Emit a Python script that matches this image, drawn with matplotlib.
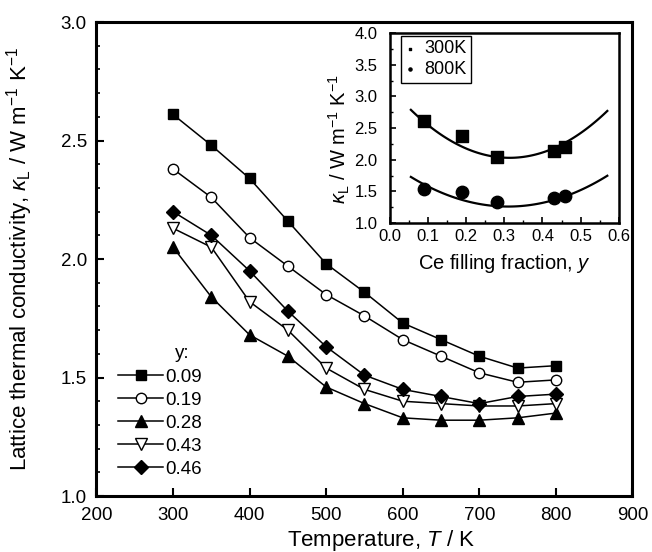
import numpy as np
import matplotlib
matplotlib.use("Agg")
import matplotlib.pyplot as plt
from matplotlib.ticker import MultipleLocator, FormatStrFormatter

plt.rcParams['font.family'] = ['Liberation Sans', 'DejaVu Sans']
plt.rcParams['mathtext.fontset'] = 'custom'
plt.rcParams['mathtext.it'] = 'Liberation Sans:italic'
plt.rcParams['mathtext.rm'] = 'Liberation Sans'

# data
temps = [300, 350, 400, 450, 500, 550, 600, 650, 700, 750, 800]
fill = [0.09, 0.19, 0.28, 0.43, 0.46]
k_009 = [2.61, 2.48, 2.34, 2.16, 1.98, 1.86, 1.73, 1.66, 1.59, 1.54, 1.55]
k_019 = [2.38, 2.26, 2.09, 1.97, 1.85, 1.76, 1.66, 1.59, 1.52, 1.48, 1.49]
k_028 = [2.05, 1.84, 1.68, 1.59, 1.46, 1.39, 1.33, 1.32, 1.32, 1.33, 1.35]
k_043 = [2.13, 2.05, 1.82, 1.70, 1.54, 1.45, 1.40, 1.39, 1.38, 1.38, 1.39]
k_046 = [2.20, 2.10, 1.95, 1.78, 1.63, 1.51, 1.45, 1.42, 1.39, 1.42, 1.43]
labels = ['0.09', '0.19', '0.28', '0.43', '0.46']

k300 = [2.61, 2.38, 2.05, 2.13, 2.20]
k800 = [1.54, 1.49, 1.33, 1.39, 1.43]
# parabola drawn in the inset: curvature, vertex y-fraction, vertex kappa
fit300 = [11.3, 0.314, 2.03]
fit800 = [7.2, 0.31, 1.26]
fit_range = [0.055, 0.57]

fig = plt.figure(figsize=(6.52, 5.52), dpi=100)
ax = fig.add_axes([0.148, 0.1014, 0.822, 0.8586])

series = [k_009, k_019, k_028, k_043, k_046]
markers = ['s', 'o', '^', 'v', 'D']
faces = ['k', 'w', 'k', 'w', 'k']
sizes = [7, 7.5, 8, 8.5, 7]
for ks, m, fc, ms, lab in zip(series, markers, faces, sizes, labels):
    ax.plot(temps, ks, color='k', lw=1.1, marker=m, mfc=fc, mec='k', mew=1.0,
            ms=ms, label=lab)

ax.set_xlim(200, 900)
ax.set_ylim(1.0, 3.0)
ax.xaxis.set_major_locator(MultipleLocator(100))
ax.yaxis.set_major_locator(MultipleLocator(0.5))
ax.yaxis.set_minor_locator(MultipleLocator(0.1))
ax.yaxis.set_major_formatter(FormatStrFormatter('%.1f'))
ax.tick_params(direction='in', length=6, width=1.5, labelsize=13.5)
ax.tick_params(axis='x', pad=8)
ax.tick_params(axis='y', pad=7)
ax.tick_params(which='minor', direction='in', length=3, width=1.2)
for s in ax.spines.values():
    s.set_linewidth(2.2)
ax.set_xlabel('Temperature, $\\it{T}$ / K', fontsize=16)
ax.xaxis.set_label_coords(0.532, -0.068)
ax.set_ylabel('Lattice thermal conductivity, $\\kappa_\\mathrm{L}$ / W m$^{-1}$ K$^{-1}$',
              fontsize=16)
ax.yaxis.set_label_coords(-0.115, 0.5)

ax.legend(loc='lower left', bbox_to_anchor=(0.041, 0.038), frameon=False,
          fontsize=13.5, handlelength=2.4, handletextpad=0.1,
          labelspacing=0.32, borderaxespad=0, borderpad=0)
ax.text(0.16, 0.300, 'y:', transform=ax.transAxes, fontsize=13.5,
        ha='center', va='center')

# inset
ins = fig.add_axes([0.598, 0.596, 0.351, 0.344])
ins.scatter(fill, k300, marker='s', s=70, color='k', label='300K', zorder=3)
ins.scatter(fill, k800, marker='o', s=80, color='k', label='800K', zorder=3)
xf = np.linspace(fit_range[0], fit_range[1], 100)
for a, x0, y0 in [fit300, fit800]:
    ins.plot(xf, y0 + a * (xf - x0) ** 2, color='k', lw=1.6)
ins.set_xlim(0.0, 0.6)
ins.set_ylim(1.0, 4.0)
ins.xaxis.set_major_locator(MultipleLocator(0.1))
ins.xaxis.set_minor_locator(MultipleLocator(0.05))
ins.yaxis.set_major_locator(MultipleLocator(0.5))
ins.yaxis.set_minor_locator(MultipleLocator(0.25))
ins.tick_params(direction='in', length=4.5, width=1.2, labelsize=12)
ins.tick_params(axis='x', pad=4)
ins.tick_params(axis='y', pad=9)
ins.tick_params(which='minor', direction='in', length=2.5, width=1)
for s in ins.spines.values():
    s.set_linewidth(1.8)
ins.set_xlabel('Ce filling fraction, $\\it{y}$', fontsize=14.5)
ins.xaxis.set_label_coords(0.5, -0.155)
ins.set_ylabel('$\\kappa_\\mathrm{L}$ / W m$^{-1}$ K$^{-1}$', fontsize=14.5)
ins.yaxis.set_label_coords(-0.165, 0.44)
il = ins.legend(loc='upper left', bbox_to_anchor=(0.05, 0.985), fontsize=13,
                markerscale=0.25, handlelength=0.5, handletextpad=0.5,
                labelspacing=0.2, borderpad=0.25, fancybox=False,
                framealpha=1, edgecolor='k', borderaxespad=0)
il.get_frame().set_linewidth(1.0)

fig.savefig('out.png', dpi=100)
